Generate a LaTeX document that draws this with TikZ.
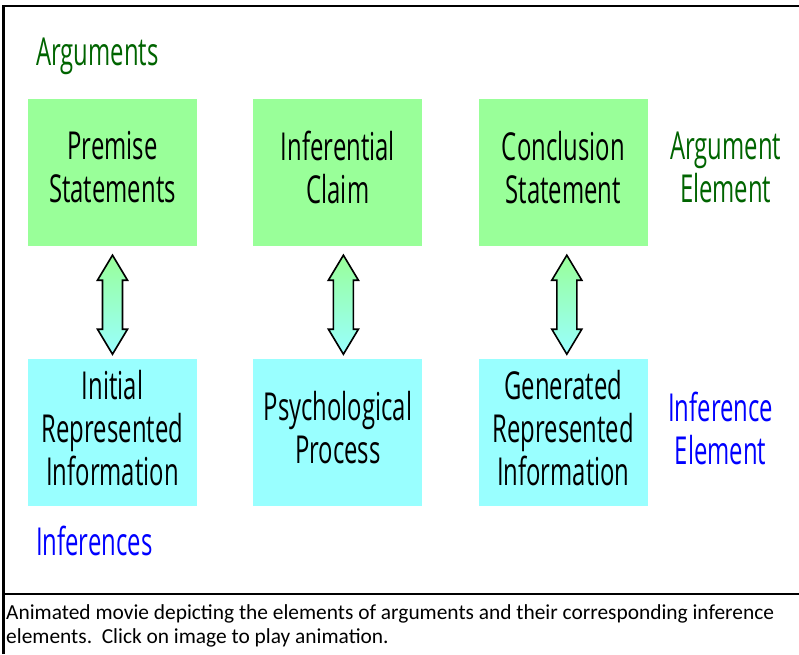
\documentclass[tikz,border=0pt]{standalone}
\usepackage{fontspec}
\setmainfont{Carlito}
\newfontfamily\handfont[FakeStretch=0.62]{Open Sans}
\usetikzlibrary{positioning,calc}

\definecolor{boxgreen}{RGB}{153,255,153}
\definecolor{boxcyan}{RGB}{153,255,255}
\definecolor{labgreen}{RGB}{0,100,0}
\definecolor{labblue}{RGB}{0,0,255}

\tikzset{
  argbox/.style={fill=boxgreen, minimum width=169pt, minimum height=147pt,
    inner sep=0pt, align=center, text depth=11pt,
    font=\handfont\fontsize{38.5}{43}\selectfont},
  infbox/.style={argbox, fill=boxcyan},
  sidelabel/.style={inner sep=0pt, align=center, font=\handfont\fontsize{38.5}{43}\selectfont},
  dblarrow/.style={draw=black, line width=1.6pt, line join=miter,
    top color=boxgreen, bottom color=boxcyan},
}

% block arrow centred on a coordinate
\newcommand{\blockarrow}[1]{%
  \filldraw[dblarrow] ($(#1)+(0,-49.5)$) -- ++(15,25) -- ++(-5,0) -- ++(0,49)
    -- ++(5,0) -- ++(-15,25) -- ++(-15,-25) -- ++(5,0) -- ++(0,-49)
    -- ++(-5,0) -- cycle;}

\begin{document}
\begin{tikzpicture}[x=1pt, y=-1pt]
  \useasboundingbox (0,0) rectangle (799,654);

  % frame
  \draw[line width=2.5pt] (3.5,654) |- (799,6);
  \draw[line width=2.5pt] (3.5,594) -- (799,594);

  % argument row
  \node[argbox] (prem) at (112.5,172.5) {Premise\\Statements};
  \node[argbox, right=56pt of prem] (claim) {Inferential\\Claim};
  \node[argbox, right=56pt of claim] (conc) {Conclusion\\Statement};

  % inference row
  \node[infbox, below=113pt of prem] (init) {Initial\\Represented\\Information};
  \node[infbox, below=113pt of claim] (proc) {Psychological\\Process};
  \node[infbox, below=113pt of conc] (gen) {Generated\\Represented\\Information};

  % labels
  \node[sidelabel, labgreen, anchor=base west] (arglab) at (36,65) {Arguments};
  \node[sidelabel, labblue, anchor=base west] (inflab) at (36,555) {Inferences};
  \node[sidelabel, labgreen, right=22pt of conc, yshift=5pt] (argel) {Argument\\Element};
  \node[sidelabel, labblue, right=20pt of gen, yshift=4pt] (infel) {Inference\\Element};

  % arrows between rows
  \coordinate (a1) at ($(prem.south)!0.5!(init.north)+(0,2)$);
  \coordinate (a2) at ($(claim.south)!0.5!(proc.north)+(5.5,2)$);
  \coordinate (a3) at ($(conc.south)!0.5!(gen.north)+(3.5,2)$);
  \blockarrow{a1}
  \blockarrow{a2}
  \blockarrow{a3}

  % caption
  \node[anchor=base west, inner sep=0pt, align=left,
    font=\fontsize{21.4}{24}\selectfont] (cap) at (6,643)
    {Animated movie depicting the elements of arguments and their corresponding inference\\
     elements.\ \ Click on image to play animation.};
\end{tikzpicture}
\end{document}
